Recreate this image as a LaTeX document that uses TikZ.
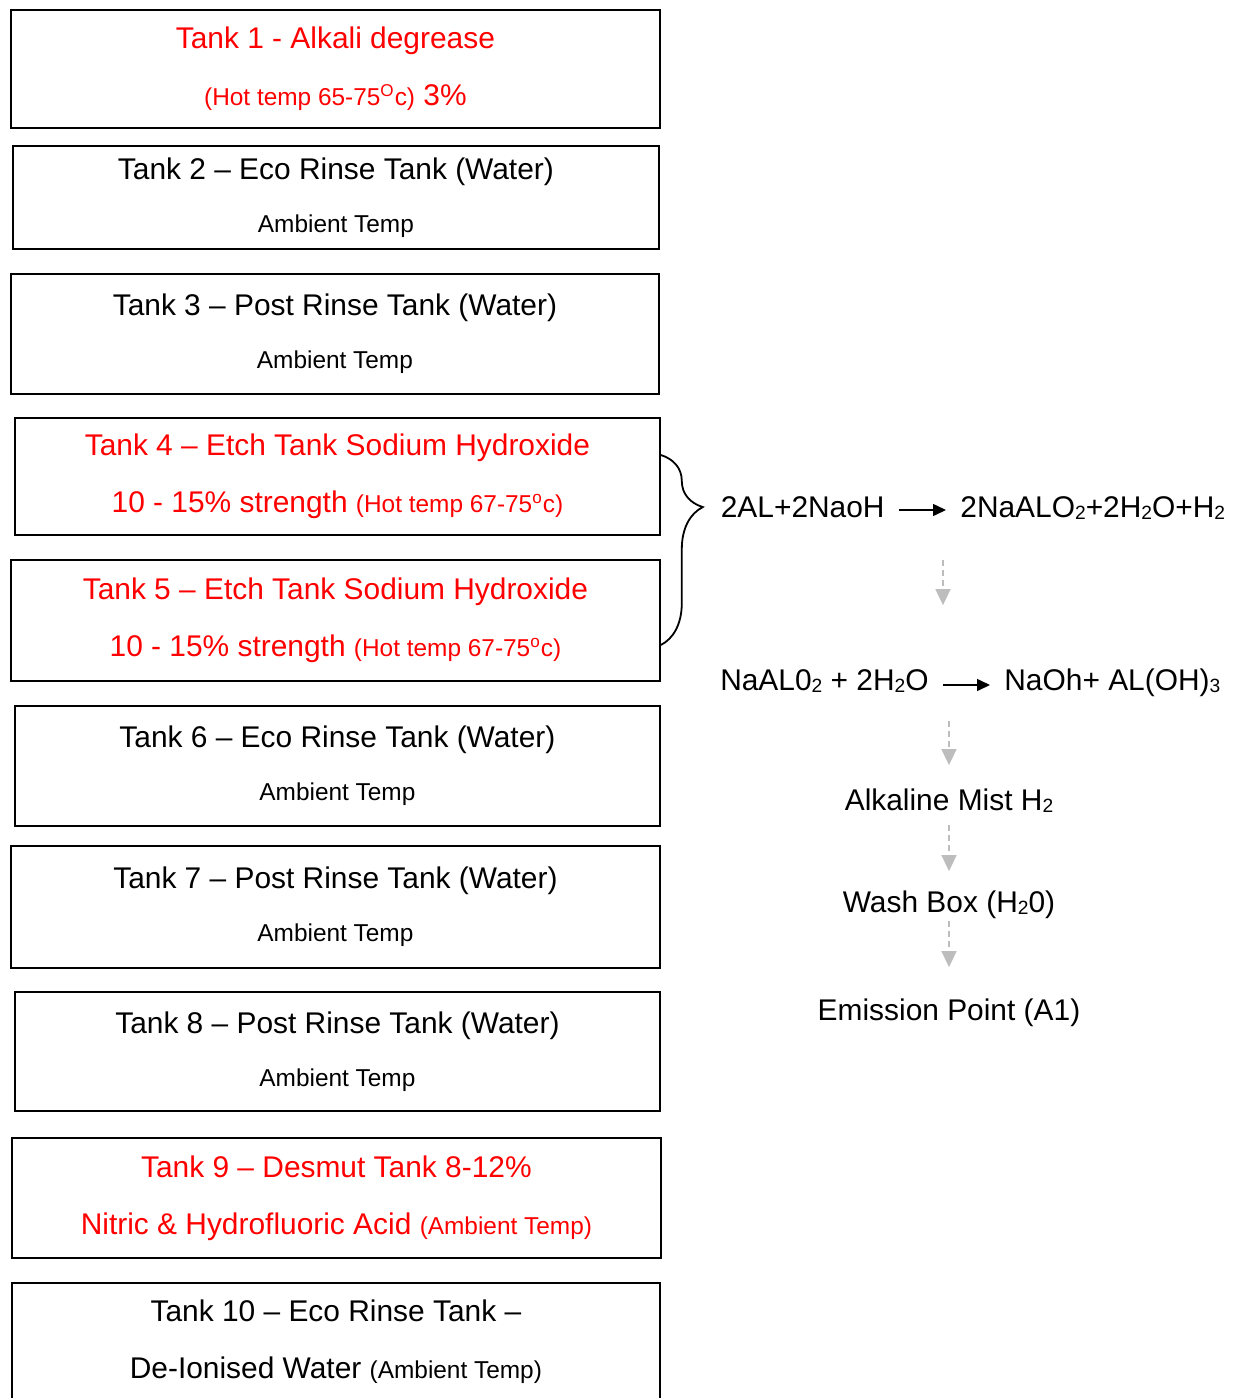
\documentclass[tikz,border=0pt]{standalone}
\usepackage{fontspec}
\setmainfont{Liberation Sans}
\usetikzlibrary{arrows.meta,positioning,calc,decorations.pathreplacing}
\definecolor{tankred}{HTML}{FF0000}
\definecolor{mistgrey}{HTML}{BDBDBD}
\newcommand{\smalltxt}[1]{{\fontsize{12.2}{28.5}\selectfont #1}}
\newcommand{\chemsub}[1]{\raisebox{-1.2pt}{\fontsize{9.6}{10}\selectfont #1}}

\begin{document}
\begin{tikzpicture}[x=0.5pt,y=-0.5pt,font=\fontsize{14.95}{28.5}\selectfont,
  tank/.style={draw,line width=0.9pt,anchor=north west,align=center,inner sep=0pt},
  hot/.style={tank,text=tankred},
  chem/.style={inner sep=0pt,text height=10.5pt,text depth=3pt},
  react/.style={line width=0.75pt,shorten <=7pt,shorten >=7pt,-{Triangle[length=6.5pt,width=6pt]}},
  flow/.style={mistgrey,line width=0.75pt,dash pattern=on 3pt off 2pt,-{Triangle[length=8pt,width=7.5pt]}}]
\useasboundingbox (0,0) rectangle (1237,1398);

% tank line
\node[hot,minimum width=324.5pt,minimum height=59pt] (t1) at (10,9)
  {Tank 1 - Alkali degrease\\\smalltxt{(Hot temp 65-75\textsuperscript{O}c)} 3\%};
\node[tank,minimum width=323pt,minimum height=51.5pt] (t2) at (12,145)
  {Tank 2 – Eco Rinse Tank (Water)\\[-2pt]\smalltxt{Ambient Temp}};
\node[tank,minimum width=324pt,minimum height=60pt] (t3) at (10,273)
  {Tank 3 – Post Rinse Tank (Water)\\[-2pt]\smalltxt{Ambient Temp}};
\node[hot,minimum width=322.5pt,minimum height=58.5pt] (t4) at (14,417)
  {Tank 4 – Etch Tank Sodium Hydroxide\\10 - 15\% strength \smalltxt{(Hot temp 67-75\textsuperscript{o}c)}};
\node[hot,minimum width=324.5pt,minimum height=60.5pt] (t5) at (10,559)
  {Tank 5 – Etch Tank Sodium Hydroxide\\10 - 15\% strength \smalltxt{(Hot temp 67-75\textsuperscript{o}c)}};
\node[tank,minimum width=322.5pt,minimum height=60pt] (t6) at (14,705)
  {Tank 6 – Eco Rinse Tank (Water)\\[-2pt]\smalltxt{Ambient Temp}};
\node[tank,minimum width=324.5pt,minimum height=61pt] (t7) at (10,845)
  {Tank 7 – Post Rinse Tank (Water)\\[-2pt]\smalltxt{Ambient Temp}};
\node[tank,minimum width=322.5pt,minimum height=59.5pt] (t8) at (14,991)
  {Tank 8 – Post Rinse Tank (Water)\\[-2pt]\smalltxt{Ambient Temp}};
\node[hot,minimum width=324.5pt,minimum height=60pt] (t9) at (11,1137)
  {Tank 9 – Desmut Tank 8-12\%\\Nitric \& Hydrofluoric Acid \smalltxt{(Ambient Temp)}};
\node[tank,minimum width=324pt,minimum height=59pt] (t10) at (11,1282)
  {Tank 10 – Eco Rinse Tank –\\De-Ionised Water \smalltxt{(Ambient Temp)}};

% etch tanks feed the reaction
\draw[line width=0.9pt,decorate,decoration={brace,amplitude=21pt,aspect=0.274}]
  ([yshift=-19pt]t4.north east) -- ([yshift=-43pt]t5.north east);

% chemistry
\node[chem,anchor=east] (r1l) at (885,510) {2AL+2NaoH};
\node[chem,anchor=west] (r1r) at (960,510) {2NaALO\chemsub{2}+2H\chemsub{2}O+H\chemsub{2}};
\draw[react] (r1l) -- (r1r);
\node[chem,anchor=east] (r2l) at (929,683) {NaAL0\chemsub{2} + 2H\chemsub{2}O};
\node[chem,anchor=west] (r2r) at (1004,683) {NaOh+ AL(OH)\chemsub{3}};
\draw[react] ([yshift=-1pt]r2l.east) -- ([yshift=-1pt]r2r.west);
\node[chem] (mist) at (949,803) {Alkaline Mist H\chemsub{2}};
\node[chem] (wash) at (949,905) {Wash Box (H\chemsub{2}0)};
\node[chem] (emit) at (949,1013) {Emission Point (A1)};

\draw[flow,shorten <=18pt,shorten >=32pt] ([xshift=-8.5pt]r1r.south west) -- ([xshift=-8.5pt]r1r.south west |- r2l.north);
\draw[flow,shorten <=12pt,shorten >=12pt] (mist.north |- r2l.south) -- (mist.north);
\draw[flow,shorten <=4pt,shorten >=10pt] (mist) -- (wash);
\draw[flow,shorten <=1pt,shorten >=16pt] (wash) -- (emit);
\end{tikzpicture}
\end{document}
